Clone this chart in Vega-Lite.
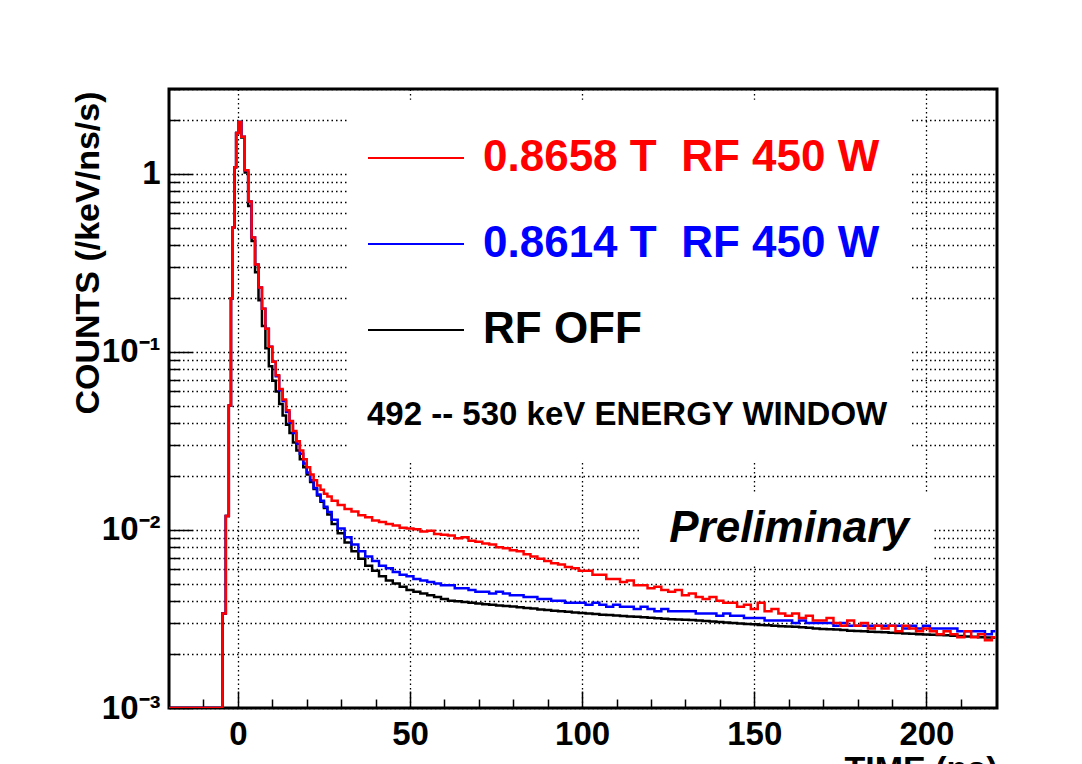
{
  "$schema": "https://vega.github.io/schema/vega-lite/v6.json",
  "width": 828,
  "height": 619,
  "autosize": {"type": "none"},
  "padding": {"left": 169, "top": 89, "right": 85, "bottom": 56},
  "background": "white",
  "config": {
    "font": "Liberation Sans",
    "view": {"stroke": "black", "strokeWidth": 3},
    "axis": {
      "labelFont": "Liberation Sans", "labelFontWeight": "bold", "labelColor": "black",
      "titleFont": "Liberation Sans", "titleFontWeight": "bold", "titleColor": "black",
      "domain": false, "tickColor": "black", "tickWidth": 1.5,
      "gridColor": "black", "gridOpacity": 1, "gridWidth": 1.3, "gridDash": [1.5, 3],
      "labelFlush": false, "labelOverlap": false
    }
  },
  "datasets": {
    "red": [
      {"t":-20,"c":0.001},{"t":-5,"c":0.001},{"t":-4,"c":0.0034},{"t":-3,"c":0.012},{"t":-2.25,"c":0.05},{"t":-1.75,"c":0.2},{"t":-1.25,"c":0.5},{"t":-0.75,"c":1.09},{"t":-0.25,"c":1.7},{"t":0.5,"c":1.96},
      {"t":1.5,"c":1.62},{"t":2.5,"c":1.05},{"t":3.5,"c":0.7},{"t":4.5,"c":0.44},{"t":5.5,"c":0.31},{"t":6.5,"c":0.23},{"t":7.5,"c":0.175},{"t":8.5,"c":0.135},{"t":9.5,"c":0.107},{"t":10.5,"c":0.088},
      {"t":11.5,"c":0.074},{"t":12.5,"c":0.062},{"t":13.5,"c":0.054},{"t":14.5,"c":0.047},{"t":15.5,"c":0.041},{"t":16.5,"c":0.036},{"t":17.5,"c":0.0315},{"t":18.5,"c":0.028},{"t":19.5,"c":0.025},{"t":20.5,"c":0.0225},
      {"t":21.5,"c":0.0205},{"t":22.5,"c":0.019},{"t":23.5,"c":0.0178},{"t":24.5,"c":0.0168},{"t":25.5,"c":0.016},{"t":26.5,"c":0.0154},{"t":28,"c":0.0146},{"t":30,"c":0.0138},{"t":32,"c":0.0131},{"t":34,"c":0.0127},
      {"t":36,"c":0.0121},{"t":38,"c":0.0118},{"t":40,"c":0.0113},{"t":42,"c":0.0111},{"t":44,"c":0.0108},{"t":46,"c":0.0106},{"t":48,"c":0.0103},{"t":50,"c":0.0102},{"t":52,"c":0.0101},{"t":54,"c":0.0098},
      {"t":56,"c":0.0099},{"t":58,"c":0.0095},{"t":60,"c":0.0094},{"t":62,"c":0.0093},{"t":64,"c":0.009},{"t":66,"c":0.0091},{"t":68,"c":0.0087},{"t":70,"c":0.0086},{"t":72,"c":0.0084},{"t":74,"c":0.0083},
      {"t":76,"c":0.008},{"t":78,"c":0.0079},{"t":80,"c":0.0077},{"t":82,"c":0.0076},{"t":84,"c":0.0073},{"t":86,"c":0.0071},{"t":88,"c":0.0069},{"t":90,"c":0.0067},{"t":92,"c":0.0065},{"t":94,"c":0.0064},
      {"t":96,"c":0.0062},{"t":98,"c":0.0061},{"t":100,"c":0.0059},{"t":102,"c":0.0059},{"t":104,"c":0.0056},{"t":106,"c":0.0056},{"t":108,"c":0.0053},{"t":110,"c":0.0053},{"t":112,"c":0.0051},{"t":114,"c":0.0052},
      {"t":116,"c":0.0049},{"t":118,"c":0.0049},{"t":120,"c":0.0047},{"t":122,"c":0.0048},{"t":124,"c":0.0046},{"t":126,"c":0.0045},{"t":128,"c":0.0046},{"t":130,"c":0.0043},{"t":132,"c":0.0044},{"t":134,"c":0.0042},
      {"t":136,"c":0.0041},{"t":138,"c":0.0042},{"t":140,"c":0.004},{"t":142,"c":0.0039},{"t":144,"c":0.0039},{"t":146,"c":0.0037},{"t":148,"c":0.0038},{"t":150,"c":0.0036},{"t":152,"c":0.0039},{"t":154,"c":0.0035},
      {"t":156,"c":0.0036},{"t":158,"c":0.0034},{"t":160,"c":0.0033},{"t":162,"c":0.0034},{"t":164,"c":0.0032},{"t":166,"c":0.0033},{"t":168,"c":0.0031},{"t":170,"c":0.0031},{"t":172,"c":0.0032},{"t":174,"c":0.003},
      {"t":176,"c":0.0029},{"t":178,"c":0.0031},{"t":180,"c":0.0029},{"t":182,"c":0.003},{"t":184,"c":0.0028},{"t":186,"c":0.0029},{"t":188,"c":0.0028},{"t":190,"c":0.0029},{"t":192,"c":0.0027},{"t":194,"c":0.0029},
      {"t":196,"c":0.0028},{"t":198,"c":0.0027},{"t":200,"c":0.0028},{"t":202,"c":0.0027},{"t":204,"c":0.0026},{"t":206,"c":0.0027},{"t":208,"c":0.0026},{"t":210,"c":0.0025},{"t":212,"c":0.0027},{"t":214,"c":0.0025},
      {"t":216,"c":0.0026},{"t":218,"c":0.0024},{"t":220,"c":0.0025}
    ],
    "blue": [
      {"t":-20,"c":0.001},{"t":-5,"c":0.001},{"t":-4,"c":0.0034},{"t":-3,"c":0.012},{"t":-2.25,"c":0.05},{"t":-1.75,"c":0.2},{"t":-1.25,"c":0.5},{"t":-0.75,"c":1.09},{"t":-0.25,"c":1.7},{"t":0.5,"c":1.96},
      {"t":1.5,"c":1.62},{"t":2.5,"c":1.05},{"t":3.5,"c":0.7},{"t":4.5,"c":0.44},{"t":5.5,"c":0.31},{"t":6.5,"c":0.23},{"t":7.5,"c":0.175},{"t":8.5,"c":0.135},{"t":9.5,"c":0.107},{"t":10.5,"c":0.088},
      {"t":11.5,"c":0.073},{"t":12.5,"c":0.061},{"t":13.5,"c":0.053},{"t":14.5,"c":0.046},{"t":15.5,"c":0.04},{"t":16.5,"c":0.035},{"t":17.5,"c":0.0305},{"t":18.5,"c":0.0268},{"t":19.5,"c":0.0236},{"t":20.5,"c":0.021},
      {"t":21.5,"c":0.019},{"t":22.5,"c":0.0172},{"t":23.5,"c":0.0158},{"t":24.5,"c":0.0146},{"t":25.5,"c":0.0135},{"t":26.5,"c":0.0126},{"t":28,"c":0.0114},{"t":30,"c":0.0102},{"t":32,"c":0.0091},{"t":34,"c":0.0083},
      {"t":36,"c":0.0076},{"t":38,"c":0.0071},{"t":40,"c":0.0067},{"t":42,"c":0.0063},{"t":44,"c":0.0061},{"t":46,"c":0.0058},{"t":48,"c":0.0056},{"t":50,"c":0.0055},{"t":52,"c":0.0053},{"t":54,"c":0.0052},
      {"t":56,"c":0.0051},{"t":58,"c":0.005},{"t":60,"c":0.0049},{"t":62,"c":0.0049},{"t":64,"c":0.0047},{"t":66,"c":0.0047},{"t":68,"c":0.0046},{"t":70,"c":0.0045},{"t":72,"c":0.0045},{"t":74,"c":0.0044},
      {"t":76,"c":0.0045},{"t":78,"c":0.0044},{"t":80,"c":0.0043},{"t":82,"c":0.0043},{"t":84,"c":0.0042},{"t":86,"c":0.0042},{"t":88,"c":0.0041},{"t":90,"c":0.0041},{"t":92,"c":0.004},{"t":94,"c":0.004},
      {"t":96,"c":0.0039},{"t":98,"c":0.0039},{"t":100,"c":0.0039},{"t":102,"c":0.0038},{"t":104,"c":0.0039},{"t":106,"c":0.0038},{"t":108,"c":0.0037},{"t":110,"c":0.0038},{"t":112,"c":0.0037},{"t":114,"c":0.0037},
      {"t":116,"c":0.0036},{"t":118,"c":0.0037},{"t":120,"c":0.0036},{"t":122,"c":0.0035},{"t":124,"c":0.0036},{"t":126,"c":0.0035},{"t":128,"c":0.0035},{"t":130,"c":0.0035},{"t":132,"c":0.0035},{"t":134,"c":0.0034},
      {"t":136,"c":0.0034},{"t":138,"c":0.0034},{"t":140,"c":0.0033},{"t":142,"c":0.0034},{"t":144,"c":0.0033},{"t":146,"c":0.0033},{"t":148,"c":0.0032},{"t":150,"c":0.0032},{"t":152,"c":0.0032},{"t":154,"c":0.0031},
      {"t":156,"c":0.0031},{"t":158,"c":0.0031},{"t":160,"c":0.0031},{"t":162,"c":0.003},{"t":164,"c":0.0031},{"t":166,"c":0.003},{"t":168,"c":0.003},{"t":170,"c":0.003},{"t":172,"c":0.003},{"t":174,"c":0.0029},
      {"t":176,"c":0.003},{"t":178,"c":0.0029},{"t":180,"c":0.0029},{"t":182,"c":0.0029},{"t":184,"c":0.0029},{"t":186,"c":0.0029},{"t":188,"c":0.0029},{"t":190,"c":0.0029},{"t":192,"c":0.0029},{"t":194,"c":0.0028},
      {"t":196,"c":0.0029},{"t":198,"c":0.0028},{"t":200,"c":0.0029},{"t":202,"c":0.0028},{"t":204,"c":0.0028},{"t":206,"c":0.0028},{"t":208,"c":0.0028},{"t":210,"c":0.0027},{"t":212,"c":0.0027},{"t":214,"c":0.0027},
      {"t":216,"c":0.0027},{"t":218,"c":0.0026},{"t":220,"c":0.0027}
    ],
    "black": [
      {"t":-20,"c":0.001},{"t":-5,"c":0.001},{"t":-4,"c":0.0034},{"t":-3,"c":0.012},{"t":-2.25,"c":0.05},{"t":-1.75,"c":0.2},{"t":-1.25,"c":0.5},{"t":-0.75,"c":1.09},{"t":-0.25,"c":1.7},{"t":0.5,"c":1.96},
      {"t":1.5,"c":1.6},{"t":2.5,"c":1.02},{"t":3.5,"c":0.66},{"t":4.5,"c":0.42},{"t":5.5,"c":0.28},{"t":6.5,"c":0.195},{"t":7.5,"c":0.14},{"t":8.5,"c":0.105},{"t":9.5,"c":0.083},{"t":10.5,"c":0.069},
      {"t":11.5,"c":0.06},{"t":12.5,"c":0.051},{"t":13.5,"c":0.044},{"t":14.5,"c":0.039},{"t":15.5,"c":0.035},{"t":16.5,"c":0.031},{"t":17.5,"c":0.028},{"t":18.5,"c":0.025},{"t":19.5,"c":0.0225},{"t":20.5,"c":0.0205},
      {"t":21.5,"c":0.0186},{"t":22.5,"c":0.017},{"t":23.5,"c":0.0156},{"t":24.5,"c":0.0144},{"t":25.5,"c":0.0133},{"t":26.5,"c":0.0122},{"t":28,"c":0.0108},{"t":30,"c":0.0096},{"t":32,"c":0.0085},{"t":34,"c":0.0076},
      {"t":36,"c":0.0069},{"t":38,"c":0.0063},{"t":40,"c":0.0059},{"t":42,"c":0.0055},{"t":44,"c":0.0052},{"t":46,"c":0.005},{"t":48,"c":0.0048},{"t":50,"c":0.0046},{"t":52,"c":0.0045},{"t":54,"c":0.0044},
      {"t":56,"c":0.0043},{"t":58,"c":0.0042},{"t":60,"c":0.0041},{"t":62,"c":0.004},{"t":64,"c":0.00398},{"t":66,"c":0.00394},{"t":68,"c":0.0039},{"t":70,"c":0.00386},{"t":72,"c":0.00383},{"t":74,"c":0.0038},
      {"t":76,"c":0.00377},{"t":78,"c":0.00374},{"t":80,"c":0.00372},{"t":82,"c":0.00368},{"t":84,"c":0.00365},{"t":86,"c":0.00362},{"t":88,"c":0.00358},{"t":90,"c":0.00355},{"t":92,"c":0.00352},{"t":94,"c":0.0035},
      {"t":96,"c":0.00347},{"t":98,"c":0.00344},{"t":100,"c":0.00342},{"t":102,"c":0.0034},{"t":104,"c":0.00337},{"t":106,"c":0.00334},{"t":108,"c":0.00333},{"t":110,"c":0.00331},{"t":112,"c":0.00329},{"t":114,"c":0.00327},
      {"t":116,"c":0.00325},{"t":118,"c":0.00323},{"t":120,"c":0.00321},{"t":122,"c":0.00319},{"t":124,"c":0.00317},{"t":126,"c":0.00315},{"t":128,"c":0.00314},{"t":130,"c":0.00313},{"t":132,"c":0.00312},{"t":134,"c":0.0031},
      {"t":136,"c":0.00308},{"t":138,"c":0.00306},{"t":140,"c":0.00304},{"t":142,"c":0.00302},{"t":144,"c":0.003},{"t":146,"c":0.00298},{"t":148,"c":0.00296},{"t":150,"c":0.00295},{"t":152,"c":0.00293},{"t":154,"c":0.00292},
      {"t":156,"c":0.0029},{"t":158,"c":0.00288},{"t":160,"c":0.00287},{"t":162,"c":0.00286},{"t":164,"c":0.00284},{"t":166,"c":0.00282},{"t":168,"c":0.0028},{"t":170,"c":0.00278},{"t":172,"c":0.00277},{"t":174,"c":0.00276},
      {"t":176,"c":0.00274},{"t":178,"c":0.00272},{"t":180,"c":0.00271},{"t":182,"c":0.0027},{"t":184,"c":0.00268},{"t":186,"c":0.00267},{"t":188,"c":0.00266},{"t":190,"c":0.00265},{"t":192,"c":0.00264},{"t":194,"c":0.00262},
      {"t":196,"c":0.00261},{"t":198,"c":0.0026},{"t":200,"c":0.00259},{"t":202,"c":0.00258},{"t":204,"c":0.00257},{"t":206,"c":0.00256},{"t":208,"c":0.00255},{"t":210,"c":0.00254},{"t":212,"c":0.00252},{"t":214,"c":0.00251},
      {"t":216,"c":0.0025},{"t":218,"c":0.00249},{"t":220,"c":0.00248}
    ]
  },
  "resolve": {"axis": {"x": "independent", "y": "independent"}},
  "layer": [
    {
      "data": {"values": [{}]},
      "mark": {"type": "rect", "fill": "white"},
      "encoding": {
        "x": {"datum": 31.7, "type": "quantitative", "scale": {"domain": [-20, 220.5], "nice": false, "zero": false}, "axis": null},
        "x2": {"datum": 195.8},
        "y": {"datum": 2.61, "type": "quantitative", "scale": {"type": "log", "domain": [0.001, 3], "nice": false}, "axis": null},
        "y2": {"datum": 0.0241}
      }
    },
    {
      "data": {"values": [{}]},
      "mark": {"type": "rect", "fill": "white"},
      "encoding": {
        "x": {"datum": 116.8, "type": "quantitative", "scale": {"domain": [-20, 220.5], "nice": false, "zero": false}, "axis": null},
        "x2": {"datum": 202},
        "y": {"datum": 0.01636, "type": "quantitative", "scale": {"type": "log", "domain": [0.001, 3], "nice": false}, "axis": null},
        "y2": {"datum": 0.00636}
      }
    },
    {
      "data": {"values": [{}]},
      "mark": {"type": "text", "text": "Preliminary", "font": "Liberation Sans", "fontSize": 44, "fontWeight": "bold", "fontStyle": "italic", "align": "center", "baseline": "alphabetic", "color": "black"},
      "encoding": {
        "x": {"datum": 160.1, "type": "quantitative", "scale": {"domain": [-20, 220.5], "nice": false, "zero": false}, "axis": null},
        "y": {"datum": 0.00859, "type": "quantitative", "scale": {"type": "log", "domain": [0.001, 3], "nice": false}, "axis": null}
      }
    },
    {
      "data": {"name": "black"},
      "mark": {"type": "line", "interpolate": "step", "strokeWidth": 2.5, "clip": true},
      "encoding": {
        "x": {"field": "t", "type": "quantitative", "scale": {"domain": [-20, 220.5], "nice": false, "zero": false},
          "axis": {"orient": "bottom", "values": [0, 50, 100, 150, 200], "format": "d", "ticks": false, "tickSize": 0, "grid": false, "labelFontSize": 33, "labelPadding": 10,
            "title": "TIME (ns)", "titleFontSize": 34, "titleX": 828, "titleY": 71, "titleAlign": "right", "titleBaseline": "alphabetic"}},
        "y": {"field": "c", "type": "quantitative", "scale": {"type": "log", "domain": [0.001, 3], "nice": false},
          "axis": {"orient": "left", "values": [0.001, 0.01, 0.1, 1], "ticks": false, "tickSize": 0, "grid": false, "labelFontSize": 33, "labelPadding": 9,
            "labelExpr": "datum.value == 1 ? '1' : datum.value == 0.1 ? '10⁻¹' : datum.value == 0.01 ? '10⁻²' : datum.value == 0.001 ? '10⁻³' : ''",
            "title": "COUNTS (/keV/ns/s)", "titleFontSize": 34, "titleX": -64, "titleY": 2, "titleAngle": -90, "titleAlign": "right", "titleBaseline": "bottom"}},
        "color": {"datum": "RF OFF", "type": "nominal",
          "scale": {"domain": ["0.8658 T\u00a0 RF 450 W", "0.8614 T\u00a0 RF 450 W", "RF OFF"], "range": ["#ff0000", "#0000ff", "#000000"]},
          "legend": {"orient": "none", "legendX": 198, "legendY": 20, "direction": "vertical", "padding": 0, "zindex": 1,
            "title": "492 -- 530 keV ENERGY WINDOW", "titleOrient": "bottom", "titleAnchor": "start", "titleFont": "Liberation Sans", "titleFontSize": 33, "titleFontWeight": "bold", "titleColor": "black", "titlePadding": 47, "titleLimit": 1000,
            "labelFont": "Liberation Sans", "labelFontSize": 44, "labelFontWeight": "bold", "labelLimit": 1000, "labelOffset": 18,
            "symbolType": "stroke", "symbolSize": 9216, "symbolStrokeWidth": 2, "rowPadding": 15,
            "encode": {"labels": {"update": {"fill": {"scale": "color", "field": "value"}}}}}}
      }
    },
    {
      "data": {"name": "blue"},
      "mark": {"type": "line", "interpolate": "step", "strokeWidth": 2.5, "clip": true},
      "encoding": {
        "x": {"field": "t", "type": "quantitative", "scale": {"domain": [-20, 220.5], "nice": false, "zero": false},
          "axis": {"orient": "bottom", "values": [0, 50, 100, 150, 200], "labels": false, "tickSize": -17, "grid": true, "title": null}},
        "y": {"field": "c", "type": "quantitative", "scale": {"type": "log", "domain": [0.001, 3], "nice": false},
          "axis": {"orient": "left", "values": [0.001, 0.01, 0.1, 1], "labels": false, "tickSize": -23, "grid": true, "title": null}},
        "color": {"datum": "0.8614 T\u00a0 RF 450 W", "type": "nominal",
          "scale": {"domain": ["0.8658 T\u00a0 RF 450 W", "0.8614 T\u00a0 RF 450 W", "RF OFF"], "range": ["#ff0000", "#0000ff", "#000000"]}}
      }
    },
    {
      "data": {"name": "red"},
      "mark": {"type": "line", "interpolate": "step", "strokeWidth": 2.5, "clip": true},
      "encoding": {
        "x": {"field": "t", "type": "quantitative", "scale": {"domain": [-20, 220.5], "nice": false, "zero": false},
          "axis": {"orient": "bottom", "values": [-10, 10, 20, 30, 40, 60, 70, 80, 90, 110, 120, 130, 140, 160, 170, 180, 190, 210], "labels": false, "tickSize": -9, "grid": false, "title": null}},
        "y": {"field": "c", "type": "quantitative", "scale": {"type": "log", "domain": [0.001, 3], "nice": false},
          "axis": {"orient": "left", "values": [0.002, 0.003, 0.004, 0.005, 0.006, 0.007, 0.008, 0.009, 0.02, 0.03, 0.04, 0.05, 0.06, 0.07, 0.08, 0.09, 0.2, 0.3, 0.4, 0.5, 0.6, 0.7, 0.8, 0.9, 2, 3], "labels": false, "tickSize": -11, "grid": true, "title": null}},
        "color": {"datum": "0.8658 T\u00a0 RF 450 W", "type": "nominal",
          "scale": {"domain": ["0.8658 T\u00a0 RF 450 W", "0.8614 T\u00a0 RF 450 W", "RF OFF"], "range": ["#ff0000", "#0000ff", "#000000"]}}
      }
    }
  ]
}
